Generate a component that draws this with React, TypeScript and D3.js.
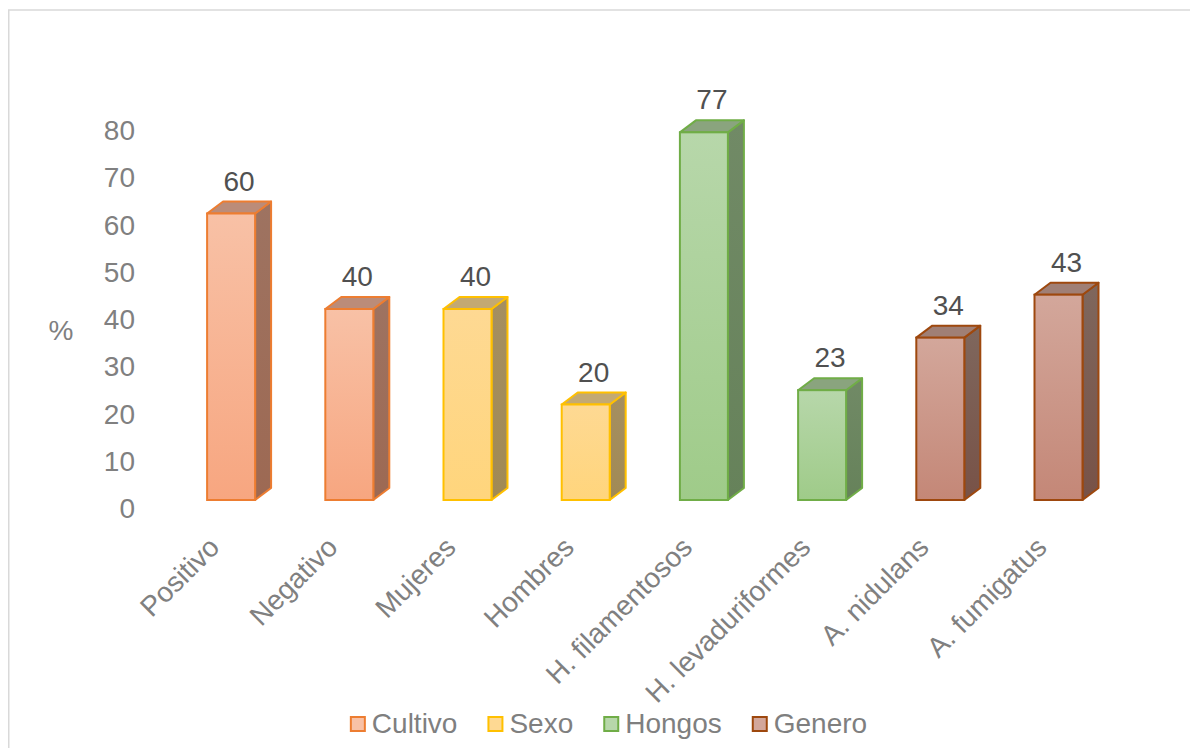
import React from "react";
import * as d3 from "d3";

const categories = ["Positivo", "Negativo", "Mujeres", "Hombres", "H. filamentosos", "H. levaduriformes", "A. nidulans", "A. fumigatus"];
const values = [60, 40, 40, 20, 77, 23, 34, 43];
const groupOf = ["Cultivo", "Cultivo", "Sexo", "Sexo", "Hongos", "Hongos", "Genero", "Genero"];
const legendGroups = ["Cultivo", "Sexo", "Hongos", "Genero"];
const yTicks = [0, 10, 20, 30, 40, 50, 60, 70, 80];

const palette: Record<string, { stroke: string; frontTop: string; frontBot: string; sideTop: string; sideBot: string; top: string }> = {
  Cultivo: { stroke: "#ed7d31", frontTop: "#f8c1a6", frontBot: "#f7a680", sideTop: "#9e7361", sideBot: "#9d6953", top: "#bb8c79" },
  Sexo: { stroke: "#ffc000", frontTop: "#fed993", frontBot: "#ffd57c", sideTop: "#a58f61", sideBot: "#a18a55", top: "#c3a973" },
  Hongos: { stroke: "#70ad47", frontTop: "#b7d7aa", frontBot: "#9fcb89", sideTop: "#718a66", sideBot: "#66825a", top: "#8aa47e" },
  Genero: { stroke: "#9e480e", frontTop: "#d3a79b", frontBot: "#c48777", sideTop: "#7f675d", sideBot: "#785247", top: "#a07f75" },
};

const FONT = "'Liberation Sans', Arial, sans-serif";
const FS = 28;

function measure(text: string): number {
  if (typeof document === "undefined") return text.length * 14;
  const c = document.createElement("canvas");
  const ctx = c.getContext("2d")!;
  ctx.font = `${FS}px 'Liberation Sans', Arial, sans-serif`;
  return ctx.measureText(text).width;
}

export default function App() {
  const W = 1190;
  const H = 740;
  const depthX = 16;
  const depthY = 12;

  const x = d3.scaleBand<string>().domain(categories).range([172, 1117.6]).paddingInner(0.594).paddingOuter(0.297);
  const y = d3.scaleLinear().domain([0, 80]).range([500, 500 - 80 * 4.775]);
  const yAxis = d3.scaleLinear().domain([0, 80]).range([508, 130]);
  const bw = x.bandwidth();

  const legendSq = 16;
  const legendGap = 6;
  const legendSpacing = 30;
  const widths = legendGroups.map((g) => measure(g));
  const total = widths.reduce((a, b) => a + b, 0) + legendGroups.length * (legendSq + legendGap) + (legendGroups.length - 1) * legendSpacing;
  let lx = 608.5 - total / 2;
  const legendItems = legendGroups.map((g, i) => {
    const item = { g, x: lx, w: widths[i] };
    lx += legendSq + legendGap + widths[i] + legendSpacing;
    return item;
  });

  return (
    <svg width={W} height={H} style={{ display: "block" }} fontFamily={FONT}>
      <defs>
        {legendGroups.map((g) => (
          <React.Fragment key={g}>
            <linearGradient id={`front-${g}`} x1="0" y1="0" x2="0" y2="1">
              <stop offset="0" stopColor={palette[g].frontTop} />
              <stop offset="1" stopColor={palette[g].frontBot} />
            </linearGradient>
            <linearGradient id={`side-${g}`} x1="0" y1="0" x2="0" y2="1">
              <stop offset="0" stopColor={palette[g].sideTop} />
              <stop offset="1" stopColor={palette[g].sideBot} />
            </linearGradient>
          </React.Fragment>
        ))}
      </defs>
      <g transform="translate(-8,-8)">
        <rect x={8.75} y={10} width={1400} height={1000} fill="#fff" stroke="#d9d9d9" strokeWidth={1.5} />
        {yTicks.map((t) => (
          <text key={t} x={135} y={yAxis(t) + 10} textAnchor="end" fontSize={FS} fill="#808080">
            {t}
          </text>
        ))}
        <text x={61} y={330 + 10} textAnchor="middle" fontSize={FS} fill="#808080">%</text>
        {categories.map((c, i) => {
          const g = groupOf[i];
          const p = palette[g];
          const x0 = x(c)!;
          const x1 = x0 + bw;
          const yb = y(0);
          const yt = y(values[i]);
          const side = `M${x1},${yb} L${x1 + depthX},${yb - depthY} L${x1 + depthX},${yt - depthY} L${x1},${yt} Z`;
          const top = `M${x0},${yt} L${x0 + depthX},${yt - depthY} L${x1 + depthX},${yt - depthY} L${x1},${yt} Z`;
          return (
            <g key={c}>
              <path d={side} fill={`url(#side-${g})`} stroke={p.stroke} strokeWidth={2} strokeLinejoin="round" />
              <path d={top} fill={p.top} stroke={p.stroke} strokeWidth={2} strokeLinejoin="round" />
              <rect x={x0} y={yt} width={bw} height={yb - yt} fill={`url(#front-${g})`} stroke={p.stroke} strokeWidth={2} />
              <text x={x0 + (bw + depthX) / 2} y={yt - depthY - 11} textAnchor="middle" fontSize={FS} fill="#505050">
                {values[i]}
              </text>
              <text
                transform={`translate(${x0 + bw / 2 - 10},549) rotate(-45)`}
                textAnchor="end"
                fontSize={FS}
                fill="#808080"
              >
                {c}
              </text>
            </g>
          );
        })}
        {legendItems.map((it) => (
          <g key={it.g}>
            <rect x={it.x + 1} y={717} width={legendSq - 2} height={legendSq - 2} fill={palette[it.g].frontTop} stroke={palette[it.g].stroke} strokeWidth={2} />
            <text x={it.x + legendSq + legendGap} y={733} fontSize={FS} fill="#7f7f7f">
              {it.g}
            </text>
          </g>
        ))}
      </g>
    </svg>
  );
}
